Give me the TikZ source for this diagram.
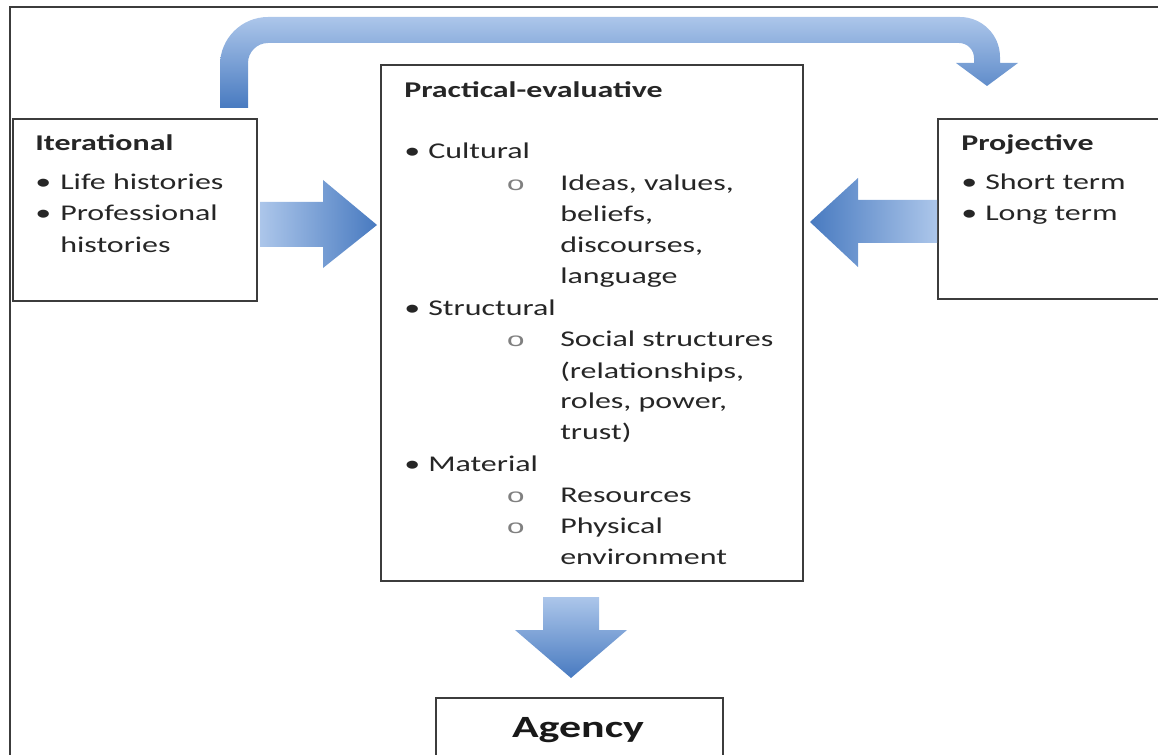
\documentclass[tikz,border=0pt]{standalone}
\usepackage{fontspec}
\setmainfont{Carlito}[FakeStretch=1.42]
\newfontfamily\ofont{Liberation Mono}[FakeStretch=1.6]
\usetikzlibrary{calc,positioning}

\definecolor{arrowlight}{RGB}{172,198,234}
\definecolor{arrowdark}{RGB}{72,122,192}
\definecolor{boxline}{RGB}{60,60,60}

\tikzset{
  box/.style={draw=boxline, line width=1.3pt, fill=white, anchor=north west, inner sep=0pt},
  txt/.style={anchor=base west, inner sep=0pt, text=black!85, font=\fontsize{16}{22}\selectfont},
  head/.style={txt, font=\fontsize{16}{22}\selectfont\bfseries},
  subdot/.style={txt, text=black!50, font=\fontsize{14}{22}\ofont},
}

\begin{document}
\begin{tikzpicture}[x=0.025cm, y=-0.025cm]
    \useasboundingbox (0,0) rectangle (1158,755);
    % Frame
    \draw[boxline, line width=1.3pt] (10,770) -- (10,7) -- (1170,7);

    % Boxes
    \node[box, minimum width=6.1cm, minimum height=4.55cm] (iter) at (12,118) {};
    \node[box, minimum width=10.55cm, minimum height=12.9cm] (prac) at (380,64) {};
    \node[box, minimum width=5.8cm, minimum height=4.5cm] (proj) at (937,118) {};
    \node[box, minimum width=7.175cm, minimum height=2cm] (agency) at (435,697) {};

    % Block arrows
    \shade[left color=arrowlight, right color=arrowdark]
        (260,202) -- (323,202) -- (323,180) -- (377,225) -- (323,268) -- (323,247) -- (260,247) -- cycle;
    \shade[left color=arrowdark, right color=arrowlight]
        (810,222) -- (858,178) -- (858,200) -- (937,200) -- (937,243) -- (858,243) -- (858,267) -- cycle;
    \shade[top color=arrowlight, bottom color=arrowdark]
        (543,597) -- (599,597) -- (599,630) -- (627,630) -- (571,678) -- (515,630) -- (543,630) -- cycle;
    % Curved arrow on top
    \shade[top color=arrowlight, bottom color=arrowdark]
        (220,108) -- (220,65) .. controls (220,38.5) and (241.5,17) .. (268,17)
        -- (960,17) .. controls (982,17) and (1000,35) .. (1000,57)
        -- (1000,63) -- (1018,63) -- (987,86) -- (956,63) -- (974,63) -- (974,58)
        .. controls (974,49.7) and (967.3,43) .. (959,43)
        -- (268,43) .. controls (257,43) and (248,52) .. (248,63)
        -- (248,108) -- cycle;

    % Iterational
    \node[head] (iterT) at (35,151) {Iterational};
    \foreach \y/\t [count=\i] in {190/Life histories, 221/Professional} {
        \node[txt] (iterB\i) at (35,\y) {•};
        \node[txt] (iterL\i) at (60,\y) {\t};
    }
    \node[txt] (iterL3) at (60,252) {histories};

    % Projective
    \node[head] (projT) at (961,151) {Projective};
    \foreach \y/\t [count=\i] in {190/Short term, 221/Long term} {
        \node[txt] (projB\i) at (961,\y) {•};
        \node[txt] (projL\i) at (985,\y) {\t};
    }

    % Practical-evaluative
    \node[head] (pracT) at (404,98) {Practical-evaluative};
    \foreach \y/\t [count=\i] in {159/Cultural, 315/Structural, 471/Material} {
        \node[txt] (pracB\i) at (404,\y) {•};
        \node[txt] (pracL\i) at (428,\y) {\t};
    }
    \foreach \y in {191,346,502,533} {
        \node[subdot] (o\y) at (506,\y) {o};
    }
    \foreach \y/\t [count=\i] in {191/{Ideas, values,}, 222/{beliefs,}, 252/{discourses,},
        283/language, 346/Social structures, 378/{(relationships,}, 408/{roles, power,},
        439/{trust)}, 502/Resources, 533/Physical, 564/environment} {
        \node[txt] (pracS\i) at (560,\y) {\t};
    }

    % Agency
    \node[anchor=base, inner sep=0pt, text=black!90, font=\fontsize{22}{26}\selectfont\bfseries] (agencyT) at (578,737) {Agency};
\end{tikzpicture}
\end{document}
